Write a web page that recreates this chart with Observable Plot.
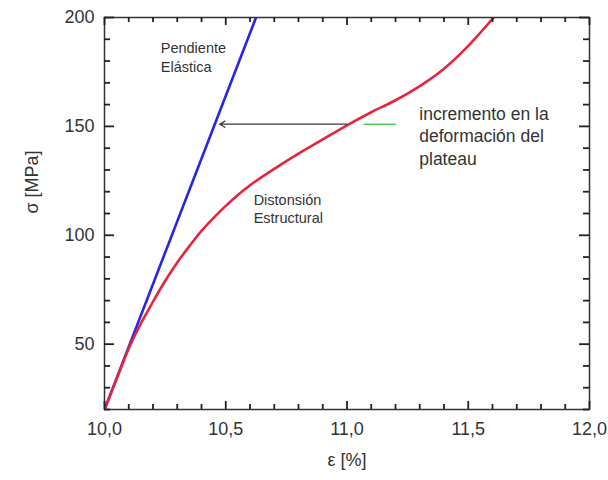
<!DOCTYPE html>
<html><head><meta charset="utf-8">
<script src="https://cdn.jsdelivr.net/npm/d3@7"></script>
<script src="https://cdn.jsdelivr.net/npm/@observablehq/plot@0.6"></script>
<style>body{margin:0;background:#fff} #chart{width:608px;height:480px}</style>
</head><body><div id="chart"></div>
<script>
// Red curve: stress–strain (ε [%], σ [MPa])
const curveStrain = [10.00, 10.05, 10.10, 10.15, 10.20, 10.25, 10.30, 10.35, 10.40, 10.45, 10.50, 10.55, 10.60, 10.70, 10.80, 10.90, 11.00, 11.10, 11.20, 11.30, 11.40, 11.50, 11.605];
const curveStress = [20, 34, 48, 59.5, 69.5, 79, 87.5, 95, 102, 108, 113.5, 118.5, 123, 130.5, 137.5, 144, 150.5, 156.5, 162, 168.5, 176.5, 187, 200];
// Blue line: elastic slope
const elasticStrain = [10.0, 10.625];
const elasticStress = [20, 200];
// Arrow (plateau strain increment) and green marker
const arrowFrom = [11.0, 151];
const arrowTo = [10.475, 151];
const greenStrain = [11.07, 11.2];
const greenStress = [151, 151];
// Ticks
const xMajorTicks = [10, 10.5, 11, 11.5, 12];
const xMinorTicks = [10.1, 10.2, 10.3, 10.4, 10.6, 10.7, 10.8, 10.9, 11.1, 11.2, 11.3, 11.4, 11.6, 11.7, 11.8, 11.9];
const yMajorTicks = [50, 100, 150, 200];
const yMinorTicks = [20, 30, 40, 60, 70, 80, 90, 110, 120, 130, 140, 160, 170, 180, 190];
// Annotations
const smallNotes = [
  {x: 10.232, y: 182, text: "Pendiente\nElástica"},
  {x: 10.615, y: 112.5, text: "Distonsión\nEstructural"}
];
const bigNotes = [
  {x: 11.298, y: 146, text: "incremento en la\ndeformación del\nplateau"}
];
const xLabel = "ε [%]";
const yLabel = "σ [MPa]";

const curve = curveStrain.map((x, i) => ({x, y: curveStress[i]}));
const elastic = elasticStrain.map((x, i) => ({x, y: elasticStress[i]}));
const green = greenStrain.map((x, i) => ({x, y: greenStress[i]}));
const fmt = d => d.toFixed(1).replace(".", ",");
const ink = "#333";
const tickInk = "#222";
const [xMin, xMax] = [10, 12];
const [yMin, yMax] = [20, 200];
const W = 608, H = 480, mL = 104, mR = 19, mT = 17, mB = 71;
// pixel tick lengths expressed in data units of each scale
const xPerPx = (xMax - xMin) / (W - mL - mR);
const yPerPx = (yMax - yMin) / (H - mT - mB);

function ticksX(values, len, sw) {
  const d = len * yPerPx;
  return [
    Plot.ruleX(values, {x: v => v, y1: yMin, y2: yMin + d, stroke: tickInk, strokeWidth: sw}),
    Plot.ruleX(values, {x: v => v, y1: yMax - d, y2: yMax, stroke: tickInk, strokeWidth: sw})
  ];
}
function ticksY(values, len, sw) {
  const d = len * xPerPx;
  return [
    Plot.ruleY(values, {y: v => v, x1: xMin, x2: xMin + d, stroke: tickInk, strokeWidth: sw}),
    Plot.ruleY(values, {y: v => v, x1: xMax - d, x2: xMax, stroke: tickInk, strokeWidth: sw})
  ];
}

const chart = Plot.plot({
  width: W, height: H,
  marginLeft: mL, marginRight: mR, marginTop: mT, marginBottom: mB,
  x: {domain: [xMin, xMax], label: null},
  y: {domain: [yMin, yMax], label: null},
  style: {fontFamily: "'Liberation Sans', Arial, sans-serif", fontSize: "18px", color: ink},
  marks: [
    Plot.axisX({anchor: "bottom", ticks: xMajorTicks, tickSize: 0, tickPadding: 13, tickFormat: fmt, fontSize: 18, label: null}),
    Plot.axisY({anchor: "left", ticks: yMajorTicks, tickSize: 0, tickPadding: 10, tickFormat: d => String(d), fontSize: 18, label: null}),
    Plot.text([xLabel], {frameAnchor: "bottom", dy: 56, fontSize: 18, fill: ink}),
    Plot.text([yLabel], {frameAnchor: "left", dx: -72, rotate: -90, fontSize: 18, fill: ink}),
    Plot.line(elastic, {x: "x", y: "y", stroke: "#2626e6", strokeWidth: 2.6, clip: true}),
    Plot.line(curve, {x: "x", y: "y", stroke: "#e8243c", strokeWidth: 2.6, curve: "catmull-rom", clip: true}),
    Plot.line(green, {x: "x", y: "y", stroke: "#4ccf4c", strokeWidth: 1.4}),
    Plot.arrow([{x1: arrowFrom[0], y1: arrowFrom[1], x2: arrowTo[0], y2: arrowTo[1]}], {x1: "x1", y1: "y1", x2: "x2", y2: "y2", stroke: "#3a3a3a", strokeWidth: 1.3, headLength: 7}),
    Plot.text(smallNotes, {x: "x", y: "y", text: "text", textAnchor: "start", lineAnchor: "middle", fontSize: 14.5, lineHeight: 1.27, fill: ink}),
    Plot.text(bigNotes, {x: "x", y: "y", text: "text", textAnchor: "start", lineAnchor: "middle", fontSize: 17.5, lineHeight: 1.28, fill: ink}),
    Plot.frame({stroke: ink, strokeWidth: 1.5}),
    // inward ticks on all four sides, drawn last
    ...ticksX(xMinorTicks, 5, 1.8),
    ...ticksX(xMajorTicks, 8, 1.8),
    ...ticksY(yMinorTicks, 6, 1.8),
    ...ticksY(yMajorTicks, 10, 1.8)
  ]
});
document.getElementById("chart").appendChild(chart);
</script>
</body></html>
